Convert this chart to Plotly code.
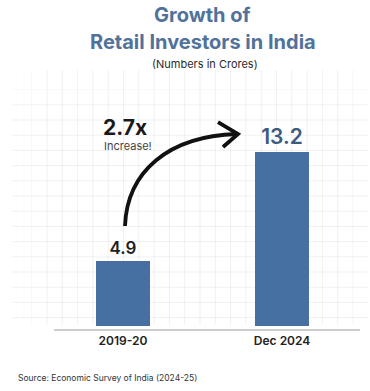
import plotly.graph_objects as go

# ---- data ----
categories = ["2019-20", "Dec 2024"]
values = [4.9, 13.2]
value_labels = ["4.9", "13.2"]
title_lines = ["Growth of", "Retail Investors in India"]
subtitle = "(Numbers in Crores)"
multiplier_text = "2.7x"
multiplier_sub = "Increase!"
source_text = "Source: Economic Survey of India (2024-25)"

# ---- layout geometry (pixels) ----
W, H = 370, 391
PL, PR, PT, PB = 54, 360, 100, 329  # plot area edges in px


def px_x(x):
    return (x - PL) / (PR - PL)


def px_y(y):
    return (PB - y) / (PB - PT)


fig = go.Figure()

fig.add_trace(go.Bar(
    x=categories,
    y=values,
    width=0.34,
    marker=dict(color="#4670a1", line=dict(width=0)),
    text=value_labels,
    textposition="outside",
    textfont=dict(family="Inter", size=[17, 21], color=["#1e1e1e", "#3d5a80"], weight=600),
    cliponaxis=False,
    hoverinfo="skip",
))

shapes = []
# faint background grid
for k in range(-2, 22):
    gx = 47 + 15.3 * k
    d = min(max((gx - 10) / 40, 0), 1) * min(max((368 - gx) / 20, 0), 1)
    if d <= 0:
        continue
    shapes.append(dict(type="line", xref="paper", yref="paper", layer="below",
                       x0=px_x(gx), x1=px_x(gx), y0=px_y(70), y1=px_y(325),
                       line=dict(color=f"rgba(0,0,0,{0.06*d:.3f})", width=1)))
for k in range(-3, 14):
    gy = 120 + 15.2 * k
    d = min(max((gy - 70) / 40, 0), 1)
    if d <= 0:
        continue
    shapes.append(dict(type="line", xref="paper", yref="paper", layer="below",
                       x0=px_x(12), x1=px_x(368), y0=px_y(gy), y1=px_y(gy),
                       line=dict(color=f"rgba(0,0,0,{0.06*d:.3f})", width=1)))

# curved arrow
def P(x, y):
    return f"{px_x(x):.4f},{px_y(y):.4f}"

shapes.append(dict(type="path", xref="paper", yref="paper",
                   path=f"M {P(125,226)} C {P(127,172)} {P(168,136)} {P(237,134)}",
                   line=dict(color="#111111", width=3.8)))
shapes.append(dict(type="path", xref="paper", yref="paper",
                   path=f"M {P(218,122)} L {P(238,134)} L {P(223,147)}",
                   line=dict(color="#111111", width=3.8)))


def ann(text, x, y, size, color, xanchor="center"):
    return dict(text=text, x=px_x(x), y=px_y(y), xref="paper", yref="paper",
                xanchor=xanchor, yanchor="middle", showarrow=False,
                font=dict(family="Inter", size=size, color=color))


annotations = [
    ann(f"<b>{title_lines[0]}</b>", 202, 15, 20, "#50729b"),
    ann(f"<b>{title_lines[1]}</b>", 203, 42, 20, "#50729b"),
    ann(subtitle, 205, 64, 11, "#2a2a2a"),
    ann(f"<b>{multiplier_text}</b>", 125, 127, 21, "#1a1a1a"),
    ann(multiplier_sub, 128, 146, 11, "#444444"),
    ann(source_text, 16, 378, 8.5, "#333333", xanchor="left"),
]

fig.update_layout(
    width=W, height=H,
    margin=dict(l=PL, r=W - PR, t=PT, b=H - PB),
    paper_bgcolor="white", plot_bgcolor="rgba(0,0,0,0)",
    showlegend=False,
    shapes=shapes,
    annotations=annotations,
    xaxis=dict(type="category", range=[-0.434, 1.49], showgrid=False, zeroline=False,
               showline=True, linecolor="#cccccc", linewidth=2, ticks="",
               tickfont=dict(family="Inter", size=12, color="#222222", weight=600),
               fixedrange=True),
    yaxis=dict(range=[-0.23, 17.14], visible=False, fixedrange=True),
    bargap=0,
)

fig.write_html("out.html", config={"displayModeBar": False},
               post_script="document.body.style.margin='0';")
